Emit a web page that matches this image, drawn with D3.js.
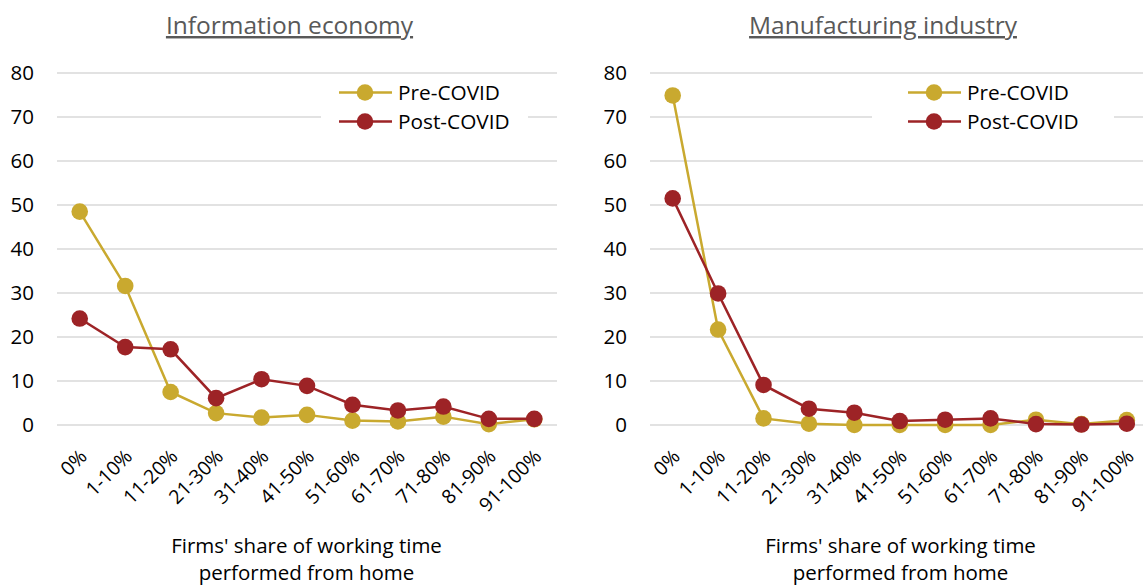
<!DOCTYPE html>
<html><head><meta charset="utf-8">
<script src="https://cdn.jsdelivr.net/npm/d3@7"></script>
<style>
body{margin:0;background:#fff}
svg{display:block}
text{font-family:"Open Sans",sans-serif}
</style>
</head><body>
<svg id="c" width="1143" height="585"></svg>
<script>
const categories = ["0%","1-10%","11-20%","21-30%","31-40%","41-50%","51-60%","61-70%","71-80%","81-90%","91-100%"];
const infoPre  = [48.5, 31.6, 7.5, 2.7, 1.7, 2.3, 1.0, 0.8, 1.9, 0.2, 1.3];
const infoPost = [24.2, 17.7, 17.2, 6.1, 10.4, 8.9, 4.6, 3.3, 4.2, 1.4, 1.4];
const manuPre  = [74.9, 21.7, 1.5, 0.3, 0.0, 0.0, 0.0, 0.0, 1.2, 0.2, 1.1];
const manuPost = [51.5, 29.9, 9.1, 3.7, 2.8, 0.9, 1.2, 1.5, 0.2, 0.1, 0.3];
const yTicks = [0, 10, 20, 30, 40, 50, 60, 70, 80];
const seriesNames = ["Pre-COVID", "Post-COVID"];
const panelTitles = ["Information economy", "Manufacturing industry"];
const xAxisTitle = ["Firms' share of working time", "performed from home"];

const colors = ["#C9A92F", "#9D2326"];
const svg = d3.select("#c");

const panels = [
  {title: panelTitles[0], data: [infoPre, infoPost], x0: 57, x1: 557, titleX: 289.5, legX: 339, legBox: [321, 528], axisTitleX: 306.5},
  {title: panelTitles[1], data: [manuPre, manuPost], x0: 650, x1: 1149.5, titleX: 883, legX: 908, legBox: [872, 1114], axisTitleX: 900.5}
];

const y = d3.scaleLinear().domain([0, 80]).range([425, 73]);

panels.forEach(p => {
  const g = svg.append("g");
  const x = d3.scalePoint().domain(categories).range([p.x0, p.x1]).padding(0.5);

  // gridlines
  g.append("g").selectAll("line").data(yTicks).join("line")
    .attr("x1", p.x0).attr("x2", p.x1)
    .attr("y1", d => y(d)).attr("y2", d => y(d))
    .attr("stroke", "#D9D9D9").attr("stroke-width", 1.6);

  // y axis labels
  const ya = g.append("g").attr("transform", `translate(${p.x0},0)`)
    .call(d3.axisLeft(y).tickValues(yTicks).tickSize(0).tickPadding(23));
  ya.select(".domain").remove();
  ya.selectAll("text").attr("font-size", 20.5).attr("fill", "#000").attr("font-family", "Open Sans");

  // x axis labels
  const xa = g.append("g").attr("transform", `translate(0,425)`)
    .call(d3.axisBottom(x).tickSize(0).tickPadding(0));
  xa.select(".domain").remove();
  xa.selectAll("text")
    .attr("font-size", 19.5).attr("fill", "#000").attr("font-family", "Open Sans")
    .attr("text-anchor", "end")
    .attr("y", 0)
    .attr("dy", "0.35em")
    .attr("transform", "translate(3,28) rotate(-45)");

  // title
  g.append("text").attr("x", p.titleX).attr("y", 34)
    .attr("text-anchor", "middle").attr("font-size", 24.5).attr("fill", "#595959")
    .attr("text-decoration", "underline").text(p.title);

  // axis title
  xAxisTitle.forEach((t, i) => {
    g.append("text").attr("x", p.axisTitleX).attr("y", 553 + i * 27)
      .attr("text-anchor", "middle").attr("font-size", 20.5).attr("fill", "#000").text(t);
  });

  // legend background
  g.append("rect").attr("x", p.legBox[0]).attr("y", 80).attr("width", p.legBox[1] - p.legBox[0]).attr("height", 55).attr("fill", "#fff");

  // series
  const line = d3.line().x((d, i) => x(categories[i])).y(d => y(d));
  p.data.forEach((vals, si) => {
    g.append("path").datum(vals).attr("d", line).attr("fill", "none")
      .attr("stroke", colors[si]).attr("stroke-width", 2.5);
    g.append("g").selectAll("circle").data(vals).join("circle")
      .attr("cx", (d, i) => x(categories[i])).attr("cy", d => y(d)).attr("r", 8.3)
      .attr("fill", colors[si]);
  });

  // legend
  seriesNames.forEach((n, si) => {
    const ly = 92.5 + si * 29;
    g.append("line").attr("x1", p.legX).attr("x2", p.legX + 53).attr("y1", ly).attr("y2", ly)
      .attr("stroke", colors[si]).attr("stroke-width", 2.5);
    g.append("circle").attr("cx", p.legX + 26).attr("cy", ly).attr("r", 8.3).attr("fill", colors[si]);
    g.append("text").attr("x", p.legX + 59).attr("y", ly).attr("dy", "0.35em")
      .attr("font-size", 20.8).attr("fill", "#000").text(n);
  });
});
</script>
</body></html>
